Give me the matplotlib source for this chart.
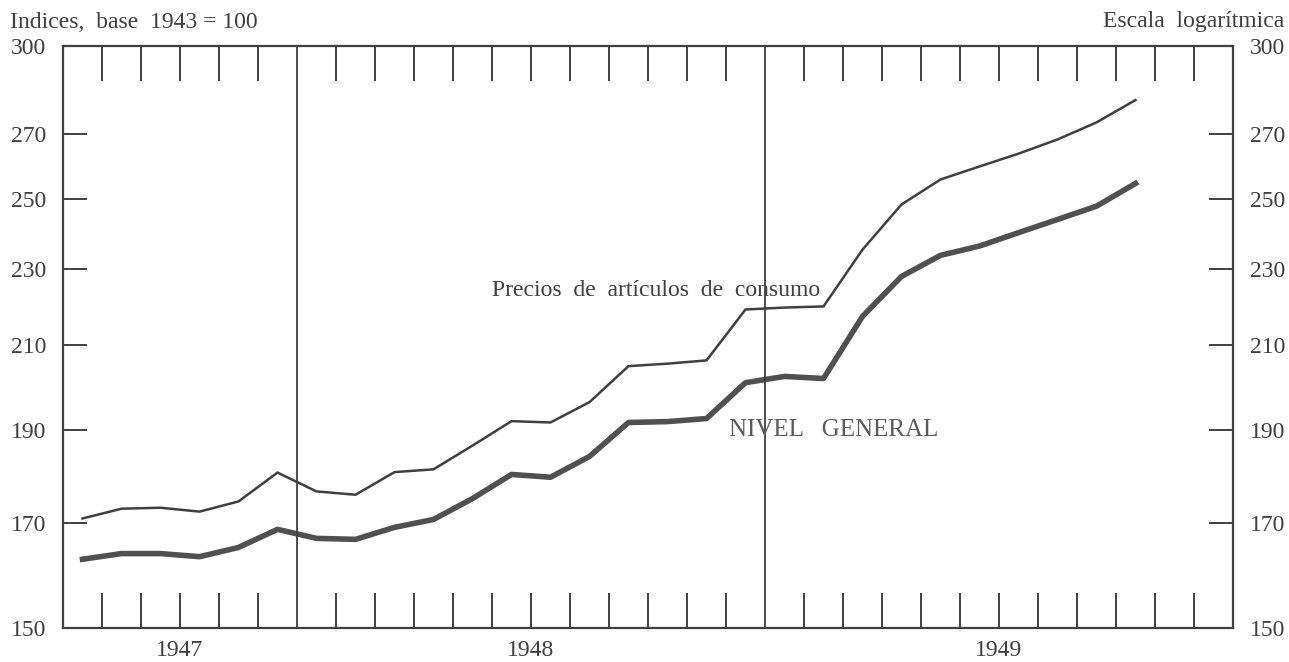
import matplotlib
matplotlib.use("Agg")
import matplotlib.pyplot as plt
from matplotlib.ticker import FixedLocator, NullLocator, FixedFormatter, NullFormatter
import numpy as np

plt.rcParams["font.family"] = ["Liberation Serif", "DejaVu Serif"]

# indices mensuales, julio 1947 - octubre 1949 (base 1943 = 100)
precios = [170.9, 172.9, 173.1, 172.3, 174.4, 180.5, 176.5, 175.8, 180.6, 181.2,
           186.4, 191.9, 191.6, 196.3, 204.9, 205.5, 206.3, 219.2, 219.7, 220.0,
           235.4, 248.4, 255.9, 259.9, 263.9, 268.4, 273.9, 281.3]
nivel = [162.8, 163.9, 163.9, 163.3, 165.1, 168.7, 166.9, 166.7, 169.1, 170.7,
         175.0, 180.1, 179.5, 184.0, 191.6, 191.8, 192.5, 200.9, 202.4, 201.9,
         217.4, 228.0, 233.8, 236.4, 240.2, 244.0, 247.9, 254.7]
years = ["1947", "1948", "1949"]
months_per_year = [6, 12, 12]
yticks = [150, 170, 190, 210, 230, 250, 270, 300]

ink = "#3f3f3f"

fig = plt.figure(figsize=(12.89, 6.62), dpi=100)
ax = fig.add_axes([63 / 1289, 1 - 628 / 662, 1170 / 1289, 582 / 662])

x = np.arange(len(precios)) + 0.5
ax.plot(x, precios, color=ink, lw=1.8, solid_joinstyle="miter")
ax.plot(x, nivel, color="#505050", lw=4.0, solid_joinstyle="round")

n_months = sum(months_per_year)
bounds = np.cumsum(months_per_year)
centers = bounds - np.array(months_per_year) / 2

ax.set_xlim(0, n_months)
ax.set_yscale("log")
ax.set_ylim(150, 300)

for b in bounds[:-1]:
    ax.axvline(b, color=ink, lw=1.3)

# eje x: marcas mensuales
month_ticks = [m for m in range(1, n_months) if m not in bounds]
ax.xaxis.set_major_locator(FixedLocator(month_ticks))
ax.xaxis.set_major_formatter(NullFormatter())
ax.xaxis.set_minor_locator(NullLocator())
ax.tick_params(axis="x", which="major", direction="in", length=25, width=1.4,
               top=True, bottom=True, color=ink)

# rótulos de años, debajo del eje
for c, yr in zip(centers, years):
    ax.text(c, -0.038, yr, transform=ax.get_xaxis_transform(), ha="center", va="center",
            fontsize=17, color=ink)

# eje y logarítmico
ax.yaxis.set_major_locator(FixedLocator(yticks))
ax.yaxis.set_major_formatter(FixedFormatter([str(v) for v in yticks]))
ax.yaxis.set_minor_locator(NullLocator())
ax.tick_params(axis="y", which="major", direction="in", length=17, width=1.4,
               left=True, right=True, labelleft=True, labelright=True,
               labelsize=17, pad=12, colors=ink)

for s in ax.spines.values():
    s.set_linewidth(1.6)
    s.set_color(ink)

ax.text(15.2, 224.2, "Precios  de  artículos  de  consumo", ha="center", va="center",
        fontsize=17, color=ink)
ax.text(19.75, 190.0, "NIVEL   GENERAL", ha="center", va="center",
        fontsize=18, color="#5a5a5a")

fig.text(10 / 1289, 1 - 22 / 662, "Indices,  base  1943 = 100", ha="left", va="center",
         fontsize=17, color=ink)
fig.text(1284 / 1289, 1 - 22 / 662, "Escala  logarítmica", ha="right", va="center",
         fontsize=17, color=ink)

fig.savefig("out.png", dpi=100, facecolor="white")
